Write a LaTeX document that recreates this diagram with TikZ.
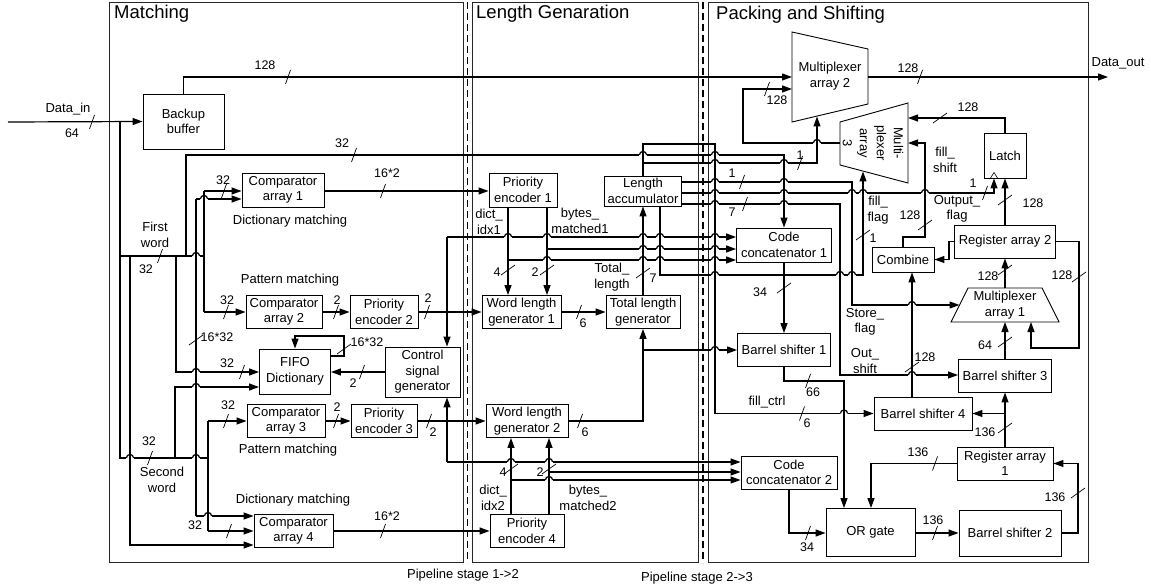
\documentclass[tikz,border=0pt]{standalone}
\usepackage{fontspec}
\setmainfont{Liberation Sans}
\usetikzlibrary{arrows.meta}
\newcommand\fsm{\fontsize{13}{15.5}\selectfont}
\newcommand\fnum{\fontsize{12.5}{15}\selectfont}
\newcommand\fttl{\fontsize{18.5}{22}\selectfont}
\newcommand\hopx[2]{%
  \fill[white] ({#1-3.6},{#2-1.4}) rectangle ({#1+3.6},{#2+1.4});
  \draw[conn] (#1,{#2-4.5}) -- (#1,{#2+4.5});
  \draw[conn] ({#1-3.6},#2) arc[start angle=180,end angle=0,radius=3.6pt];}
\newcommand\slh[2]{\draw[slash] ({#1-2.5},{#2+7}) -- ({#1+2.5},{#2-7});}
\newcommand\slv[2]{\draw[slash] ({#1-7},{#2+5}) -- ({#1+7},{#2-5});}
\tikzset{
  box/.style={draw, line width=0.9pt, fill=white, inner sep=1pt, align=center, font=\fsm},
  conn/.style={line width=1.2pt},
  arr/.style={conn, -{Triangle[length=10pt,width=7pt]}},
  slash/.style={line width=0.7pt},
  lbl/.style={inner sep=0pt, font=\fsm, align=center},
  num/.style={inner sep=0pt, font=\fnum},
  ttl/.style={inner sep=0pt, font=\fttl, anchor=west},
  frame/.style={line width=0.9pt, draw=black!85},
  pipe/.style={line width=1.5pt, dash pattern=on 7pt off 4pt},
  mux/.style={draw, line width=0.9pt, fill=white},
}
\begin{document}
\begin{tikzpicture}[x=1pt,y=-1pt]
\useasboundingbox (0,0) rectangle (1151,588);
% frames
\draw[frame] (109,2) rectangle (463,562);
\draw[frame] (472,2) rectangle (698,562);
\draw[frame] (708,2) rectangle (1088,562);
\draw[pipe] (467.5,2) -- (467.5,563);
\draw[pipe] (703,2) -- (703,563);
\node[ttl] (t1) at (114,14) {Matching};
\node[ttl] (t2) at (476,14) {Length Genaration};
\node[ttl] (t3) at (716,15) {Packing and Shifting};
\node[lbl] (p1) at (463,575) {Pipeline stage 1->2};
\node[lbl] (p2) at (697,578) {Pipeline stage 2->3};

% boxes
\node[box, minimum width=81pt, minimum height=55pt] (bb) at (183.5,121.5) {Backup\\buffer};
\node[box, minimum width=82pt, minimum height=34pt] (cmp1) at (283,190) {Comparator\\array 1};
\node[box, minimum width=76pt, minimum height=33pt] (cmp2) at (284,312) {Comparator\\array 2};
\node[box, minimum width=71pt, minimum height=45pt] (fifo) at (295,371.5) {FIFO\\Dictionary};
\node[box, minimum width=78pt, minimum height=33pt] (cmp3) at (286,421) {Comparator\\array 3};
\node[box, minimum width=79pt, minimum height=33pt] (cmp4) at (293.5,531) {Comparator\\array 4};
\node[box, minimum width=68pt, minimum height=33pt] (pe2) at (384,312) {Priority\\encoder 2};
\node[box, minimum width=66pt, minimum height=33pt] (pe3) at (384,421) {Priority\\encoder 3};
\node[box, minimum width=75pt, minimum height=50pt] (csg) at (422.5,372) {Control\\signal\\generator};
\node[box, minimum width=68pt, minimum height=34pt] (pe1) at (523,190) {Priority\\encoder 1};
\node[box, minimum width=79pt, minimum height=33pt] (wlg1) at (521.5,312) {Word length\\generator 1};
\node[box, minimum width=82pt, minimum height=33pt] (wlg2) at (527,421) {Word length\\generator 2};
\node[box, minimum width=74pt, minimum height=33pt] (pe4) at (527,531) {Priority\\encoder 4};
\node[box, minimum width=74pt, minimum height=33pt] (tlg) at (643,312) {Total length\\generator};
\node[box, minimum width=77pt, minimum height=30pt] (lacc) at (643,191) {Length\\accumulator};
\node[box, minimum width=95pt, minimum height=34pt] (cc1) at (784,245) {Code\\concatenator 1};
\node[box, minimum width=93pt, minimum height=33pt] (bs1) at (784,350) {Barrel shifter 1};
\node[box, minimum width=96pt, minimum height=33pt] (cc2) at (789,472.5) {Code\\concatenator 2};
\node[box, minimum width=89pt, minimum height=48pt] (org) at (870.5,532.5) {OR gate};
\node[box, minimum width=102pt, minimum height=46pt] (bs2) at (1010,533) {Barrel shifter 2};
\node[box, minimum width=96pt, minimum height=33pt] (ra1) at (1005,463.5) {Register array\\1};
\node[box, minimum width=98pt, minimum height=33pt] (bs4) at (923,413.5) {Barrel shifter 4};
\node[box, minimum width=93pt, minimum height=33pt] (bs3) at (1005,375.5) {Barrel shifter 3};
\node[box, minimum width=101pt, minimum height=33pt] (ra2) at (1005,241.5) {Register array 2};
\node[box, minimum width=62pt, minimum height=25pt] (comb) at (903,259.5) {Combine};
\node[box, minimum width=42pt, minimum height=45pt] (latch) at (1005,155.5) {Latch};
\draw[line width=0.6pt] (990.5,178) -- (994,172.5) -- (997.5,178);

% multiplexers
\draw[mux] (792,32) -- (868,49) -- (868,104) -- (792,122) -- cycle;
\draw[mux] (840,122) -- (908,103) -- (908,183) -- (840,165) -- cycle;
\draw[mux] (968,288) -- (1042,288) -- (1059,322) -- (951,322) -- cycle;
\node[lbl] (m2t) at (830,76) {Multiplexer\\array 2};
\node[lbl, rotate=-90, font=\fontsize{13}{17}\selectfont] (m3t) at (873,143) {Multi-\\plexer\\array\\3};
\node[lbl] (m1t) at (1005,305) {Multiplexer\\array 1};
\coordinate (m2a) at (792,77);
\coordinate (m2b) at (792,89);
\coordinate (m2o) at (868,77);
\coordinate (m2s) at (817,116.5);
\coordinate (m3a) at (908,118);
\coordinate (m3b) at (908,143);
\coordinate (m3o) at (840,143);
\coordinate (m3s) at (863,171.5);
\coordinate (m1top) at (1005,288);
\coordinate (m1b) at (1005,322);
\coordinate (m1r) at (1031,322);
\coordinate (m1l) at (959.5,305);
\coordinate (din) at (8,122);
\coordinate (dout) at (1108,77);

% --- connectors: matching
\draw[arr] (din) -- (bb.west);
\draw[arr] (bb.north) -- (183.5,77) -- (m2a);
\draw[conn] (120,122) -- (120,458) -- (208,458);
\draw[conn] (120,256) -- (204,256);
\draw[conn] (204,191) -- (204,312);
\draw[arr] (204,191) -- (cmp1.west |- 0,191);
\draw[arr] (204,312) -- (cmp2.west |- 0,312);
\draw[conn] (196,199) -- (196,516);
\draw[arr] (196,199) -- (cmp1.west |- 0,199);
\draw[arr] (196,516) -- (cmp4.west |- 0,516);
\draw[arr] (130,256) -- (130,545) -- (cmp4.west |- 0,545);
\draw[arr] (176,256) -- (176,372) -- (fifo.west |- 0,372);
\draw[arr] (175,458) -- (175,387) -- (fifo.west |- 0,387);
\draw[arr] (186,256) -- (186,155) -- (784,155) -- (cc1.north);
\draw[conn] (208,421) -- (208,531);
\draw[arr] (208,421) -- (cmp3.west |- 0,421);
\draw[arr] (208,531) -- (cmp4.west |- 0,531);
\draw[arr] (cmp1.east |- 0,191) -- (pe1.west |- 0,191);
\draw[arr] (cmp2.east) -- (pe2.west);
\draw[arr] (pe2.east) -- (wlg1.west);
\draw[arr] (cmp3.east) -- (pe3.west);
\draw[arr] (pe3.east) -- (wlg2.west);
\draw[arr] (cmp4.east) -- (pe4.west);
\draw[arr] (csg.west |- 0,372) -- (fifo.east |- 0,372);
\draw[arr] (fifo.east |- 0,356) -- (344,356) -- (344,336) -- (295,336) -- (fifo.north);
\draw[arr] (447,237) -- (csg.north -| 447,0);
\draw[arr] (447,237) -- (cc1.west |- 0,237);
\draw[arr] (447,462) -- (csg.south -| 447,0);
\draw[arr] (447,462) -- (cc2.west |- 0,462);

% --- length generation
\draw[arr] (pe1.south -| 508,0) -- (wlg1.north -| 508,0);
\draw[arr] (508,260) -- (cc1.west |- 0,260);
\draw[arr] (pe1.south -| 547,0) -- (wlg1.north -| 547,0);
\draw[arr] (547,249) -- (cc1.west |- 0,249);
\draw[arr] (wlg1.east) -- (tlg.west);
\draw[arr] (tlg.north) -- (lacc.south);
\draw[arr] (wlg2.east) -- (643,421) -- (tlg.south);
\draw[arr] (643,350) -- (bs1.west);
\draw[arr] (pe4.north -| 511,0) -- (wlg2.south -| 511,0);
\draw[arr] (511,480) -- (cc2.west |- 0,480);
\draw[arr] (pe4.north -| 549,0) -- (wlg2.south -| 549,0);
\draw[arr] (549,472) -- (cc2.west |- 0,472);
\draw[arr] (lacc.north) -- (643,144) -- (715,144) -- (715,413.5) -- (bs4.west);
\draw[arr] (643,163) -- (817,163) -- (m2s);
\draw[arr] (lacc.east |- 0,182) -- (852,182) -- (852,305) -- (m1l);
\draw[arr] (lacc.east |- 0,193) -- (994,193) -- (latch.south -| 994,0);
\draw[arr] (lacc.east |- 0,204) -- (840,204) -- (840,375) -- (bs3.west |- 0,375);
\draw[arr] (lacc.south -| 660,0) -- (660,275) -- (863,275) -- (m3s);

% --- packing and shifting
\draw[arr] (m3o) -- (743,143) -- (743,89) -- (m2b);
\draw[arr] (latch.north) -- (1005,118) -- (m3a);
\draw[arr] (comb.north) -- (903,237) -- (925,237) -- (925,143) -- (m3b);
\draw[arr] (ra2.north) -- (latch.south);
\draw[arr] (ra2.west) -- (949,241.5) -- (949,259.5) -- (comb.east);
\draw[arr] (ra2.east) -- (1079,241.5) -- (1079,348) -- (1031,348) -- (m1r);
\draw[arr] (m1top) -- (ra2.south);
\draw[arr] (bs3.north) -- (m1b);
\draw[arr] (ra1.north) -- (bs3.south);
\draw[arr] (1005,413.5) -- (bs4.east);
\draw[arr] (bs4.north -| 912,0) -- (comb.south -| 912,0);
\draw[arr] (bs1.south) -- (784,381) -- (844,381) -- (org.north -| 844,0);
\draw[arr] (cc1.south) -- (bs1.north);
\draw[arr] (cc2.south) -- (789,533) -- (org.west |- 0,533);
\draw[arr] (ra1.west) -- (871,463.5) -- (org.north -| 871,0);
\draw[arr] (bs2.east) -- (1078,533) -- (1078,463.5) -- (ra1.east);
\draw[arr] (org.east |- 0,533) -- (bs2.west |- 0,533);
\draw[arr] (m2o) -- (dout);

% --- hops
\hopx{196}{256}
\hopx{204}{199}
\hopx{196}{372}
\hopx{196}{387}
\hopx{130}{458}
\hopx{196}{458}
\hopx{208}{516}
\hopx{643}{155}\hopx{715}{155}
\hopx{715}{163}\hopx{784}{163}
\hopx{715}{182}\hopx{784}{182}
\hopx{715}{193}\hopx{784}{193}\hopx{852}{193}\hopx{863}{193}\hopx{925}{193}
\hopx{715}{204}\hopx{784}{204}
\hopx{508}{237}\hopx{547}{237}\hopx{643}{237}\hopx{660}{237}\hopx{715}{237}
\hopx{643}{249}\hopx{660}{249}\hopx{715}{249}
\hopx{547}{260}\hopx{643}{260}\hopx{660}{260}\hopx{715}{260}
\hopx{715}{275}\hopx{840}{275}\hopx{852}{275}
\hopx{912}{305}\hopx{912}{375}
\hopx{715}{350}
\hopx{844}{413.5}
\hopx{511}{462}\hopx{549}{462}
\hopx{549}{480}
\hopx{817}{143}

% --- slashes
\slh{92}{122}\slh{288}{77}\slh{354}{155}\slh{224}{191}\slh{160}{256}
\slh{226}{312}\slv{196}{340}\slh{242}{372}\slv{344}{349}\slh{362}{372}
\slh{336}{312}\slh{427}{312}\slh{226}{421}\slh{336}{421}\slh{429}{421}
\slh{150}{458}\slh{229}{531}\slh{383}{191}\slh{383}{531}
\slv{508}{270}\slv{547}{270}\slh{579}{312}\slv{643}{273}\slh{580}{421}
\slv{511}{469}\slv{549}{469}
\slh{800}{163}\slh{742}{182}\slh{745}{204}\slh{767}{89}\slv{784}{288}
\slh{808}{381}\slh{802}{413.5}\slh{808}{533}\slh{920}{77}\slv{940}{118}
\slh{985}{193}\slv{863}{235}\slv{925}{225}\slv{1005}{200}\slv{1005}{270}
\slv{1079}{277}\slv{1005}{342}\slv{912}{367}\slv{1005}{428}\slh{935}{463.5}
\slv{1078}{493}\slh{935}{533}

% --- labels
\node[lbl] (l1) at (68,109) {Data\_in};
\node[num] (l2) at (72,133) {64};
\node[num] (l3) at (265,65) {128};
\node[num] (l4) at (342,143) {32};
\node[num] (l5) at (223,180) {32};
\node[lbl] (l6) at (155,235) {First\\word};
\node[num] (l7) at (146,269) {32};
\node[lbl] (l8) at (290,221) {Dictionary matching};
\node[lbl] (l9) at (290,280) {Pattern matching};
\node[num] (l10) at (227,300) {32};
\node[num] (l11) at (217,337) {16*32};
\node[num] (l12) at (227,363) {32};
\node[num] (l13) at (367,342) {16*32};
\node[num] (l14) at (353,383) {2};
\node[num] (l15) at (337,300) {2};
\node[num] (l16) at (428,298) {2};
\node[num] (l17) at (228,405) {32};
\node[num] (l18) at (337,407) {2};
\node[num] (l19) at (433,432) {2};
\node[lbl] (l20) at (288,450) {Pattern matching};
\node[num] (l21) at (149,441) {32};
\node[lbl] (l22) at (162,480) {Second\\word};
\node[lbl] (l23) at (293,500) {Dictionary matching};
\node[num] (l24) at (195,525) {32};
\node[num] (l25) at (387,173) {16*2};
\node[num] (l26) at (387,516) {16*2};
\node[lbl] (l27) at (489,222) {dict\_\\idx1};
\node[lbl] (l28) at (580,221) {bytes\_\\matched1};
\node[num] (l29) at (497,272) {4};
\node[num] (l30) at (535,272) {2};
\node[num] (l31) at (583,323) {6};
\node[lbl] (l32) at (612,277) {Total\_\\length};
\node[num] (l33) at (653,278) {7};
\node[num] (l34) at (585,432) {6};
\node[num] (l35) at (503,472) {4};
\node[num] (l36) at (540,472) {2};
\node[lbl] (l37) at (493,498) {dict\_\\idx2};
\node[lbl] (l38) at (588,498) {bytes\_\\matched2};
\node[num] (l39) at (800,155) {1};
\node[num] (l40) at (732,173) {1};
\node[num] (l41) at (732,212) {7};
\node[num] (l42) at (777,100) {128};
\node[num] (l43) at (760,292) {34};
\node[lbl] (l44) at (865,322) {Store\_\\flag};
\node[lbl] (l45) at (865,361) {Out\_\\shift};
\node[num] (l46) at (813,392) {66};
\node[lbl] (l47) at (767,402) {fill\_ctrl};
\node[num] (l48) at (807,423) {6};
\node[num] (l49) at (807,547) {34};
\node[num] (l50) at (908,68) {128};
\node[lbl] (l51) at (1118,63) {Data\_out};
\node[num] (l52) at (968,107) {128};
\node[lbl] (l53) at (945,160) {fill\_\\shift};
\node[num] (l54) at (973,183) {1};
\node[lbl] (l55) at (957,209) {Output\_\\flag};
\node[lbl] (l56) at (878,210) {fill\_\\flag};
\node[num] (l57) at (873,238) {1};
\node[num] (l58) at (910,215) {128};
\node[num] (l59) at (1033,203) {128};
\node[num] (l60) at (988,276) {128};
\node[num] (l61) at (1062,275) {128};
\node[num] (l62) at (985,345) {64};
\node[num] (l63) at (925,357) {128};
\node[num] (l64) at (985,432) {136};
\node[num] (l65) at (918,452) {136};
\node[num] (l66) at (1055,497) {136};
\node[num] (l67) at (933,520) {136};
\end{tikzpicture}
\end{document}
